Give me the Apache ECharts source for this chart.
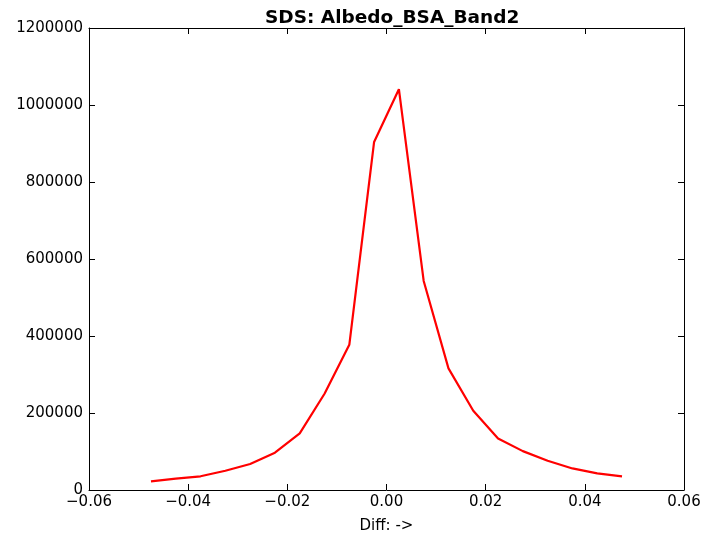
<!DOCTYPE html>
<html>
<head>
<meta charset="utf-8">
<script src="https://cdn.jsdelivr.net/npm/echarts@6/dist/echarts.min.js"></script>
<style>html,body{margin:0;padding:0;background:#fff}#c{width:720px;height:537px}</style>
</head>
<body>
<div id="c"></div>
<script>
var xValues = [-0.0475,-0.0425,-0.0375,-0.0325,-0.0275,-0.0225,-0.0175,-0.0125,-0.0075,-0.0025,0.0025,0.0075,0.0125,0.0175,0.0225,0.0275,0.0325,0.0375,0.0425,0.0475];
var counts = [22600,29400,35600,50100,67500,96900,147200,250000,377000,904000,1041000,543000,316000,206000,134000,101000,76000,56000,43300,35500];
var titleText = "SDS: Albedo_BSA_Band2";
var xLabel = "Diff: ->";

var data = xValues.map(function(x,i){return [x,counts[i]];});
function fmtX(v){ if(Math.abs(v)<1e-9) return "0.00"; var s=v.toFixed(2); return s.replace('-', '\u2212'); }
function fmtY(v){ return String(Math.round(v)); }
var font = "DejaVu Sans";
var chart = echarts.init(document.getElementById('c'), null, {renderer:'canvas'});
var axisLine = {show:true, onZero:false, lineStyle:{color:'#000', width:1}};
var tickIn = {show:true, inside:true, length:6, lineStyle:{color:'#000'}};
chart.setOption({
  animation:false,
  backgroundColor:'#fff',
  title:{text:titleText, left:260, top:4, textStyle:{fontFamily:font, fontWeight:'bold', fontSize:18.5, color:'#000'}},
  grid:{left:89, right:36, top:28, bottom:47, containLabel:false, outerBoundsMode:'none'},
  xAxis:[{
    type:'value', min:-0.06, max:0.06, interval:0.02, position:'bottom',
    axisLine:axisLine, axisTick:tickIn, splitLine:{show:false},
    axisLabel:{formatter:fmtX, fontFamily:font, fontSize:15, color:'#000', margin:5},
    name:xLabel, nameLocation:'middle', nameGap:29, nameTextStyle:{fontFamily:font, fontSize:15, color:'#000'}
  },{
    type:'value', min:-0.06, max:0.06, interval:0.02, position:'top',
    axisLine:axisLine, axisTick:tickIn, splitLine:{show:false}, axisLabel:{show:false}
  }],
  yAxis:[{
    type:'value', min:0, max:1200000, interval:200000, position:'left',
    axisLine:axisLine, axisTick:tickIn, splitLine:{show:false},
    axisLabel:{formatter:fmtY, fontFamily:font, fontSize:15, color:'#000', margin:6}
  },{
    type:'value', min:0, max:1200000, interval:200000, position:'right',
    axisLine:axisLine, axisTick:tickIn, splitLine:{show:false}, axisLabel:{show:false}
  }],
  series:[{
    type:'line', data:data, xAxisIndex:0, yAxisIndex:0,
    showSymbol:false, symbol:'none',
    lineStyle:{color:'#ff0000', width:2.2}
  }]
});
</script>
</body>
</html>
